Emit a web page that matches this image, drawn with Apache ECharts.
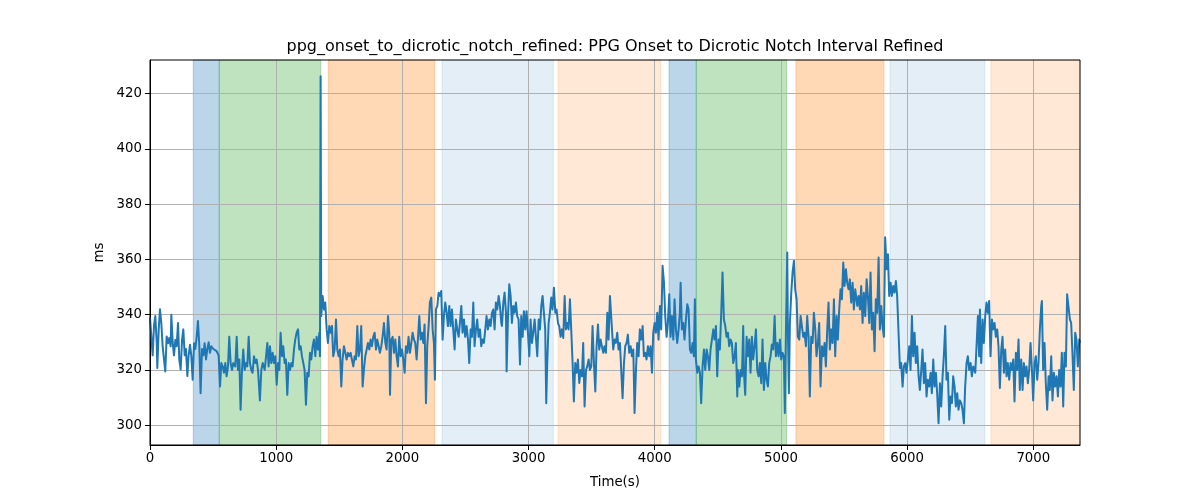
<!DOCTYPE html>
<html>
<head>
<meta charset="utf-8">
<script src="https://cdn.jsdelivr.net/npm/echarts@6/dist/echarts.min.js"></script>
<style>html,body{margin:0;padding:0;background:#fff}#c{width:1200px;height:500px}</style>
</head>
<body>
<div id="c"></div>
<script>
const titleText = 'ppg_onset_to_dicrotic_notch_refined: PPG Onset to Dicrotic Notch Interval Refined';
const xName = 'Time(s)';
const yName = 'ms';
const xTicks = [0, 1000, 2000, 3000, 4000, 5000, 6000, 7000];
const yTicks = [300, 320, 340, 360, 380, 400, 420];
const xRange = [0, 7370];
const yRange = [292.85, 432.2];

// shaded phases: [start, end, kind]
const spans = [
  [343, 549, 'blue'], [549, 1353, 'green'], [1413, 2256, 'orange'],
  [2314, 3196, 'lightblue'], [3233, 4047, 'lightorange'],
  [4113, 4329, 'blue'], [4329, 5045, 'green'], [5119, 5816, 'orange'],
  [5864, 6616, 'lightblue'], [6664, 7370, 'lightorange']
];
const spanColors = {
  blue: 'rgba(31,119,180,0.3)', green: 'rgba(44,160,44,0.3)', orange: 'rgba(255,127,14,0.3)',
  lightblue: 'rgba(31,119,180,0.12)', lightorange: 'rgba(255,127,14,0.17)'
};

// [time s, interval ms]
const seg1 = [[0,339],[10,339.5],[21,325.3],[32,336.2],[42,339.5],[53,330.2],[58,320.7],[69,334.7],[79,342],[90,336.8],[100,328.6],[111,323.8],[121,319.5],[132,332.1],[143,329.7],[153,331.6],[164,328.6],[169,340],[180,330],[190,325.3],[201,330.9],[211,328.6],[222,337],[232,323.8],[243,320.2],[254,330.9],[264,334.7],[275,325.3],[285,327.6],[296,317.8],[306,325.3],[317,329.1],[327,325.3],[338,316.5],[349,329.7],[359,327.6],[370,332.1],[380,337.7],[391,328.6],[401,311.6],[412,327.6],[423,325.3],[433,329.7],[444,323.8],[454,327.6],[465,330],[475,326.2],[486,328.6],[502,327.6],[512,328],[528,326.8],[544,325.3],[555,314],[565,322.5],[576,321.3],[586,319],[597,322.5],[607,317.7],[618,321.3],[628,332],[639,322.5],[650,320],[660,322.5],[676,321.3],[687,332],[697,320],[708,323.8],[718,305.6],[729,320],[739,327.4],[750,320],[761,322.5],[771,321.3],[782,332],[792,322.5],[803,320],[813,319],[824,325],[835,322.5],[845,323.8],[856,320],[871,309],[882,320],[893,322.5],[909,320]];
const seg2 = [[930,329.8],[940,321.3],[951,328.6],[961,322.5],[972,326.2],[982,322.5],[993,325],[1004,314.7],[1014,322.5],[1025,320],[1035,333.5],[1046,325],[1056,328.6],[1067,322.5],[1077,323.8],[1088,311],[1099,322.5],[1109,320],[1120,322.5],[1130,321.3],[1141,327.4],[1151,331],[1162,333.5],[1173,334.7],[1183,327.4],[1194,328.6],[1204,325],[1215,322.5],[1225,320],[1236,307.4],[1246,319],[1257,317.7],[1268,326.2],[1278,323.8],[1289,328.6],[1299,331],[1310,325],[1320,332],[1331,327.4],[1342,333.5],[1347,325],[1352,426.3],[1357,339.5],[1368,346.8],[1379,341.9],[1389,344.4],[1400,334.7],[1410,329.8],[1421,335.9],[1431,333.5],[1442,335.9],[1452,325],[1463,327.4],[1474,338.3],[1484,327.4],[1495,325],[1505,327.4],[1516,314],[1526,323.8],[1537,328.6],[1548,326.2],[1558,323.8],[1569,326.2],[1579,325],[1590,326.2],[1600,323.8],[1611,321.3],[1622,325],[1632,323.8],[1643,335.9],[1653,325],[1664,327.4],[1674,335.9],[1685,314],[1695,320],[1706,325],[1717,327.4],[1727,329.8],[1738,327.4],[1748,331],[1759,328.6],[1769,332],[1780,333.5],[1791,327.4],[1801,331],[1812,328.6],[1822,326.2],[1833,328.6],[1843,332]];
const seg3 = [[1854,337],[1865,329.8],[1875,327.4],[1886,339.5],[1896,333.5],[1902,311],[1912,331],[1923,332],[1933,326.2],[1944,331],[1954,325],[1965,321.3],[1975,332],[1986,325],[1997,327.4],[2007,323.8],[2018,319],[2028,328.6],[2039,326.2],[2049,332],[2060,326.2],[2071,329.8],[2081,333.5],[2092,331],[2102,329.8],[2113,323.8],[2123,331],[2134,339.5],[2145,331],[2155,333.5],[2166,329.8],[2176,336.5],[2187,308],[2197,328.6],[2208,335.9],[2218,344.4],[2229,346.2],[2240,334.7],[2250,329.8],[2258,316.5],[2266,341.9],[2277,343.2],[2287,348],[2298,346.8],[2308,348.6],[2319,331],[2329,339.5],[2340,344.4],[2351,340.7],[2361,335.9],[2372,343.2],[2382,335.9],[2393,341.9],[2403,334.7],[2414,327.4],[2424,338.3],[2435,334.7],[2446,332],[2456,337],[2467,343.2],[2477,333.5],[2488,338.3],[2498,332],[2509,335.9],[2520,331],[2530,322.5],[2541,334.7],[2551,332],[2562,344.4],[2572,328.6],[2583,334.7],[2593,338.3],[2604,332],[2615,334.7],[2625,328.6],[2636,331],[2646,329.8],[2657,334.7],[2667,339.5],[2678,334.7],[2689,338.3],[2699,335.9],[2710,340.7],[2720,341.9],[2731,334.7],[2741,344.4],[2752,341.9],[2763,346.8],[2773,343.2],[2784,337]];
const seg4 = [[2789,335.9],[2800,344.4],[2810,348],[2821,340.7],[2826,319.5],[2837,339.5],[2847,351],[2858,346.8],[2868,337],[2879,343.2],[2889,340.7],[2900,344.4],[2910,339.5],[2921,338.3],[2932,322],[2942,339.5],[2953,332],[2963,341.3],[2974,334.7],[2984,341.3],[2995,333.5],[3006,325],[3016,338.3],[3027,329.8],[3037,333.5],[3048,338.3],[3058,332],[3069,325],[3080,338.3],[3090,334.7],[3101,343.2],[3111,346.8],[3122,347.4],[3132,334.7],[3140,308],[3148,322.5],[3159,337],[3169,340.7],[3180,346.2],[3190,341.9],[3201,349.8],[3212,340.7],[3222,341.9],[3233,337],[3243,335.9],[3254,332],[3264,334.7],[3275,331.6],[3286,346.8],[3296,334.7],[3307,337],[3317,334.7],[3328,345.6],[3338,334.7],[3349,322.5],[3359,308.6],[3370,322.5],[3381,319],[3391,323.8],[3402,315.3],[3412,320],[3423,317.7],[3433,329.8],[3444,306.8],[3455,320],[3465,321.3],[3476,323.8],[3486,320],[3497,321.3],[3507,335.9],[3518,322.5],[3529,312.2],[3539,328.6],[3550,336.5],[3560,327.4],[3571,331],[3581,328.6],[3592,326.2],[3602,328.6],[3613,326.2],[3624,340.7],[3634,331],[3645,346.8],[3655,346.8],[3661,334.7],[3671,327.4],[3682,331],[3692,329.8],[3703,333.5],[3713,327.4]];
const seg5 = [[3724,329.8],[3735,329.8],[3745,309.8],[3756,322.5],[3766,328.6],[3777,329.8],[3787,332.8],[3798,326.2],[3809,328.6],[3819,325],[3830,327.4],[3840,304.4],[3851,320],[3861,329.8],[3872,325],[3882,334.7],[3893,331],[3904,335.9],[3914,325],[3925,326.2],[3935,323.8],[3946,328.6],[3956,325],[3967,328.6],[3978,319],[3988,333.5],[3999,337],[4009,333.5],[4020,340.7],[4030,331],[4041,343.2],[4051,334.7],[4062,357.7],[4073,351.6],[4083,339.5],[4094,332],[4104,337],[4115,347.4],[4125,332],[4136,339.5],[4147,331],[4157,345.6],[4168,334.7],[4178,329.8],[4189,334.7],[4199,340.7],[4205,351.6],[4215,334.7],[4226,337],[4236,331],[4247,338.3],[4258,343.8],[4268,341.9],[4279,327.4],[4289,326.2],[4300,329.8],[4310,325],[4318,345.6],[4326,323.8],[4337,319],[4347,321.3],[4358,319],[4368,308],[4379,321.3],[4390,327.4],[4400,320],[4411,327.4],[4421,325],[4432,320],[4442,327.4],[4453,331],[4464,334.7],[4474,331],[4485,335.9],[4495,317.7],[4506,331],[4516,327.4],[4527,340.7],[4537,355.3],[4548,338.3],[4559,335.9],[4569,332],[4580,333.5],[4590,328.6],[4601,331],[4611,329.8],[4622,322.5],[4633,325],[4643,329.8],[4654,310.4]];
const seg6 = [[4659,320],[4670,314],[4680,320],[4691,317.7],[4701,335.9],[4707,319],[4717,311],[4728,332],[4738,325],[4749,331],[4759,319],[4770,332],[4780,323.8],[4791,328.6],[4802,334.7],[4812,320],[4823,317.7],[4833,322.5],[4844,315.2],[4854,331],[4865,312.8],[4876,322.5],[4886,316.5],[4897,314],[4907,322.5],[4918,325],[4928,329.2],[4939,327.4],[4950,339.5],[4960,325],[4971,329.8],[4981,325],[4992,331],[5002,323.8],[5013,326.2],[5023,325],[5031,304.4],[5039,332],[5050,362.5],[5055,334.7],[5063,311.6],[5071,337],[5082,348],[5092,355.3],[5103,359.5],[5113,349.2],[5124,345.6],[5134,332],[5145,331],[5156,339.5],[5166,335.9],[5177,332],[5187,333.5],[5198,328.6],[5208,339.5],[5219,332],[5229,310.4],[5240,332],[5251,329.8],[5261,340.7],[5272,334.7],[5282,325],[5293,329.8],[5303,337],[5314,314],[5325,328.6],[5335,325],[5346,329.8],[5356,321.3],[5367,334.7],[5377,344.4],[5388,327.4],[5399,334.7],[5409,329.8],[5420,345.6],[5430,325],[5441,339.5],[5451,331],[5462,341.9],[5472,349.2],[5483,345.6],[5494,358.9],[5504,350.4],[5515,356.5],[5525,351.6],[5536,349.2],[5546,352.8],[5557,344.4],[5568,351.6],[5578,341.9],[5589,349.2]];
const seg7 = [[5594,349.2],[5605,343.2],[5615,346.8],[5626,341.9],[5636,350.4],[5647,337],[5657,348],[5668,339.5],[5679,352.8],[5689,346.8],[5700,337],[5710,355.3],[5721,334.7],[5731,340.7],[5742,326.8],[5752,345.6],[5763,340.7],[5774,360.7],[5784,334.7],[5795,343.2],[5805,335.9],[5816,332],[5826,368],[5837,356.5],[5848,361.9],[5858,346.8],[5869,351.6],[5879,346.8],[5890,350.4],[5900,348],[5911,352.2],[5921,346.8],[5932,333.5],[5943,320.7],[5953,322.5],[5964,314],[5974,321.3],[5985,322.5],[5995,319],[6006,323.8],[6017,328.6],[6027,320],[6038,339.5],[6048,325],[6059,333.5],[6069,322.5],[6080,328.6],[6091,317.7],[6101,312.8],[6112,320],[6122,327.4],[6133,315.2],[6143,322.5],[6154,310.4],[6164,316.5],[6175,314],[6186,319],[6196,311.6],[6207,323.8],[6217,314],[6228,319],[6238,311.6],[6249,300.7],[6260,315.2],[6270,306.8],[6281,317.7],[6291,325],[6302,335.9],[6312,316.5],[6323,319],[6334,302],[6344,310.4],[6355,308],[6365,317.7],[6376,314],[6386,306.8],[6397,311.6],[6407,305.6],[6418,309],[6429,308],[6439,305.6],[6450,300.7],[6460,314],[6471,322.5],[6481,325],[6492,320],[6503,322.5],[6513,317.7],[6524,321.3]];
const seg8 = [[6529,321.3],[6540,319],[6550,328.6],[6561,339.5],[6571,325],[6577,341.9],[6587,322.5],[6598,338.3],[6608,329.8],[6619,339.5],[6629,344.4],[6640,340.7],[6650,345],[6661,325],[6672,338.3],[6682,334.7],[6693,337],[6703,332],[6714,334.7],[6724,328.6],[6735,313.5],[6746,327.4],[6756,332],[6767,319],[6777,327.4],[6788,317.7],[6798,322.5],[6809,316.5],[6820,322.5],[6830,320],[6841,323.8],[6851,308.6],[6862,326.2],[6872,320],[6883,331],[6893,312.8],[6904,323.8],[6915,312.8],[6925,322.5],[6936,317.7],[6946,321.3],[6957,315.2],[6967,320],[6978,329.8],[6989,320],[6999,309],[7010,322.5],[7020,325],[7031,316.5],[7041,322.5],[7052,334.7],[7063,343.2],[7068,345],[7078,320],[7089,329.8],[7099,315.2],[7110,305.6],[7121,317.7],[7131,312.8],[7142,325],[7152,309],[7163,319],[7173,314],[7184,317.7],[7195,310.4],[7205,320],[7216,314],[7226,326.2],[7237,306.8],[7247,326.2],[7258,321.3],[7268,347.4],[7279,346.8],[7290,338.3],[7300,337],[7311,325],[7321,312.8],[7332,333.5],[7342,331],[7353,321.3],[7364,331],[7369,329.8]];

const lineData = [].concat(seg1, seg2, seg3, seg4, seg5, seg6, seg7, seg8);

const FONT = 'DejaVu Sans';
const chart = echarts.init(document.getElementById('c'), null, {renderer: 'canvas'});

const areaData = spans.map(s => [
  {xAxis: s[0], itemStyle: {color: spanColors[s[2]], borderColor: spanColors[s[2]], borderWidth: 1}},
  {xAxis: s[1]}
]);

chart.setOption({
  animation: false,
  backgroundColor: '#fff',
  grid: {left: 150, right: 120, top: 60, bottom: 55, show: true, borderColor: '#000', borderWidth: 1, backgroundColor: 'transparent', z: 5},
  graphic: [{
    type: 'text', x: 615, y: 47, z: 10,
    style: {text: titleText, fill: '#000', font: '16px "' + FONT + '"', align: 'center', verticalAlign: 'middle'}
  }],
  xAxis: {
    type: 'value', min: xRange[0], max: xRange[1], interval: 1000, z: 2,
    name: xName, nameLocation: 'middle', nameGap: 31,
    nameTextStyle: {color: '#000', fontFamily: FONT, fontSize: 13.3},
    axisLine: {show: true, onZero: false, lineStyle: {color: '#000', width: 1}},
    axisTick: {show: true, inside: false, length: 5, lineStyle: {color: '#000', width: 1}, customValues: xTicks},
    axisLabel: {color: '#000', fontFamily: FONT, fontSize: 13.3, margin: 7, customValues: xTicks, formatter: v => String(v)},
    splitLine: {show: true, lineStyle: {color: '#b0b0b0', width: 1}}
  },
  yAxis: {
    type: 'value', min: yRange[0], max: yRange[1], splitNumber: 7, z: 2,
    name: yName, nameLocation: 'middle', nameGap: 39,
    nameTextStyle: {color: '#000', fontFamily: FONT, fontSize: 13.3},
    axisLine: {show: true, onZero: false, lineStyle: {color: '#000', width: 1}},
    axisTick: {show: true, inside: false, length: 5, lineStyle: {color: '#000', width: 1}, customValues: yTicks},
    axisLabel: {color: '#000', fontFamily: FONT, fontSize: 13.3, margin: 8, customValues: yTicks, formatter: v => String(v)},
    splitLine: {show: true, lineStyle: {color: '#b0b0b0', width: 1}}
  },
  series: [
    {
      type: 'line', data: [], z: 0, silent: true,
      markArea: {silent: true, z: 0, data: areaData}
    },
    {
      type: 'line', data: lineData, z: 3, showSymbol: false, symbol: 'none', sampling: null,
      lineStyle: {color: '#1f77b4', width: 2, join: 'round'}, itemStyle: {color: '#1f77b4'}
    }
  ]
});
</script>
</body>
</html>
